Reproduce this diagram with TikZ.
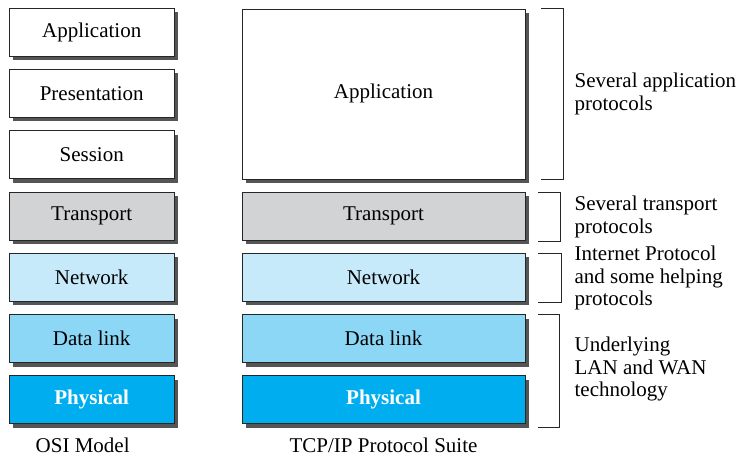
\documentclass[tikz,border=0pt]{standalone}
\usepackage{fontspec}
\setmainfont{Liberation Serif}
\usetikzlibrary{positioning,shadows,calc}

\definecolor{trgray}{RGB}{210,211,213}
\definecolor{netblue}{RGB}{199,234,250}
\definecolor{dlblue}{RGB}{140,214,246}
\definecolor{phyblue}{RGB}{0,174,239}
\definecolor{shade}{RGB}{85,85,85}

\begin{document}
\begin{tikzpicture}[x=1pt,
            y=1pt,
            font=\fontsize{21}{22.5}\selectfont,
            node distance=12.5pt,
            layer/.style={draw=black!85, line width=0.8pt, minimum height=48pt, inner sep=0pt,
                          drop shadow={shadow xshift=4pt, shadow yshift=-4pt, fill=shade, opacity=1}},
            osi/.style={layer, minimum width=165pt},
            tcp/.style={layer, minimum width=283pt},
            bracket/.style={draw=black!85, line width=0.8pt},
            note/.style={anchor=west, align=left, inner sep=0pt}]

        \useasboundingbox (0,0) rectangle (741,-456);

        % OSI model
        \node[osi, fill=white]   (oapp) at (91.7,-32) {Application};
        \node[osi, fill=white]   (opre) [below=of oapp] {Presentation};
        \node[osi, fill=white]   (oses) [below=of opre] {Session};
        \node[osi, fill=trgray]  (otr)  [below=of oses] {Transport};
        \node[osi, fill=netblue] (onet) [below=of otr]  {Network};
        \node[osi, fill=dlblue]  (odl)  [below=of onet] {Data link};
        \node[osi, fill=phyblue, text=white, font=\fontsize{21}{22.5}\selectfont\bfseries]
                                 (ophy) [below=of odl]  {Physical};

        % TCP/IP suite
        \node[tcp, fill=trgray]  (ttr)  [right=67pt of otr] {Transport};
        \node[tcp, fill=white, minimum height=170pt]
                                 (tapp) [above=12.2pt of ttr] {Application};
        \node[tcp, fill=netblue] (tnet) [right=67pt of onet] {Network};
        \node[tcp, fill=dlblue]  (tdl)  [right=67pt of odl]  {Data link};
        \node[tcp, fill=phyblue, text=white, font=\fontsize{21}{22.5}\selectfont\bfseries]
                                 (tphy) [right=67pt of ophy] {Physical};

        \node (osicap) [below=10pt of ophy.south, xshift=-9pt] {OSI Model};
        \node (tcpcap) [below=10pt of tphy.south] {TCP/IP Protocol Suite};

        % brackets
        \draw[bracket] ([xshift=16pt]tapp.north east) -| ([xshift=38pt]tapp.south east)
                       -- ([xshift=16pt]tapp.south east);
        \draw[bracket] ([xshift=12.5pt,yshift=-1pt]ttr.north east) -| ([xshift=34.5pt,yshift=-1pt]ttr.south east)
                       -- ([xshift=12.5pt,yshift=-1pt]ttr.south east);
        \draw[bracket] ([xshift=12.5pt,yshift=-1pt]tnet.north east) -| ([xshift=35.5pt,yshift=-1pt]tnet.south east)
                       -- ([xshift=12.5pt,yshift=-1pt]tnet.south east);
        \draw[bracket] ([xshift=12.5pt]tdl.north east) -| ([xshift=34pt,yshift=-3pt]tphy.south east)
                       -- ([xshift=12.5pt,yshift=-3pt]tphy.south east);

        \node[note] (napp) at ([xshift=49pt]tapp.east) {Several application\\protocols};
        \node[note] (ntr)  at ([xshift=49pt,yshift=-1pt]ttr.east) {Several transport\\protocols};
        \node[note] (nnet) at ([xshift=49pt,yshift=-1pt]tnet.east) {Internet Protocol\\and some helping\\protocols};
        \node[note] (nlow) at ($(tdl.east)!0.5!(tphy.east)+(49,0)$) {Underlying\\LAN and WAN\\technology};

    \end{tikzpicture}
\end{document}
